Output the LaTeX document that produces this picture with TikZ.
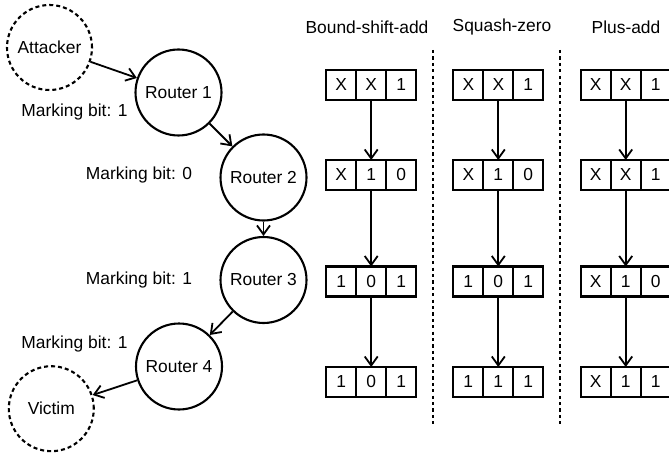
\documentclass[tikz,border=0pt]{standalone}
\usepackage{fontspec}
\setmainfont{Liberation Sans}
\usetikzlibrary{arrows.meta}
\newcommand\regbox[6]{%
  \node[cell] (#1b) at (#2,#3) {#5};
  \node[cell,anchor=east] (#1a) at (#1b.west) {#4};
  \node[cell,anchor=west] (#1c) at (#1b.east) {#6};}
\begin{document}
\begin{tikzpicture}[x=1pt,y=-1pt,
  every node/.style={font=\fontsize{17.4}{20}\selectfont},
  router/.style={circle,draw,line width=2.1pt,minimum size=86pt,inner sep=0pt},
  host/.style={circle,draw,line width=2.1pt,dash pattern=on 4pt off 3pt,minimum size=85pt,inner sep=0pt},
  cell/.style={draw,line width=2.1pt,minimum width=30pt,minimum height=30pt,inner sep=0pt,outer sep=0pt},
  arr/.style={line width=1.8pt,-{Straight Barb[length=9pt,width=13pt]}},
  sep/.style={line width=2.1pt,dash pattern=on 3.2pt off 3.2pt},
  lbl/.style={inner sep=0pt}
]
\useasboundingbox (0,0) rectangle (669,457);
% hosts and routers
\node[host] (att) at (49.5,47.5) {Attacker};
\node[router] (r1) at (178.5,92.5) {Router 1};
\node[router] (r2) at (263.5,177.5) {Router 2};
\node[router] (r3) at (263.5,280) {Router 3};
\node[router] (r4) at (179,366.5) {Router 4};
\node[host] (vic) at (51.3,408.7) {Victim};
\draw[arr] (att) -- (r1);
\draw[arr] (r1) -- (r2);
\draw[arr] (r2) -- (r3);
\draw[arr] (r3) -- (r4);
\draw[arr] (r4) -- (vic);
% marking labels
\node[lbl] (m1) at (74.5,112) {Marking bit: 1};
\node[lbl] (m2) at (139,175) {Marking bit: 0};
\node[lbl] (m3) at (139,280) {Marking bit: 1};
\node[lbl] (m4) at (74.5,344) {Marking bit: 1};
% titles
\node[lbl] (t1) at (367,27) {Bound-shift-add};
\node[lbl] (t2) at (502,27) {Squash-zero};
\node[lbl] (t3) at (626,27) {Plus-add};
% separators
\coordinate (s1t) at (432.7,50);
\coordinate (s1b) at (432.7,425);
\coordinate (s2t) at (560,50);
\coordinate (s2b) at (560,425);
\draw[sep] (s1t) -- (s1b);
\draw[sep] (s2t) -- (s2b);
% column 1
\regbox{pa}{371.2}{85}{X}{X}{1}
\regbox{pb}{371.2}{175}{X}{1}{0}
\regbox{pc}{371.2}{281.5}{1}{0}{1}
\regbox{pd}{371.2}{382}{1}{0}{1}
% column 2
\regbox{qa}{498.3}{85}{X}{X}{1}
\regbox{qb}{498.3}{175}{X}{1}{0}
\regbox{qc}{498.3}{281.5}{1}{0}{1}
\regbox{qd}{498.3}{382}{1}{1}{1}
% column 3
\regbox{ua}{625.7}{85}{X}{X}{1}
\regbox{ub}{625.7}{175}{X}{X}{1}
\regbox{uc}{625.7}{281.5}{X}{1}{0}
\regbox{ud}{625.7}{382}{X}{1}{1}
\foreach \c in {p,q,u}{
  \draw[arr] (\c ab) -- (\c bb);
  \draw[arr] (\c bb) -- (\c cb);
  \draw[arr] (\c cb) -- (\c db);
}
\end{tikzpicture}
\end{document}
